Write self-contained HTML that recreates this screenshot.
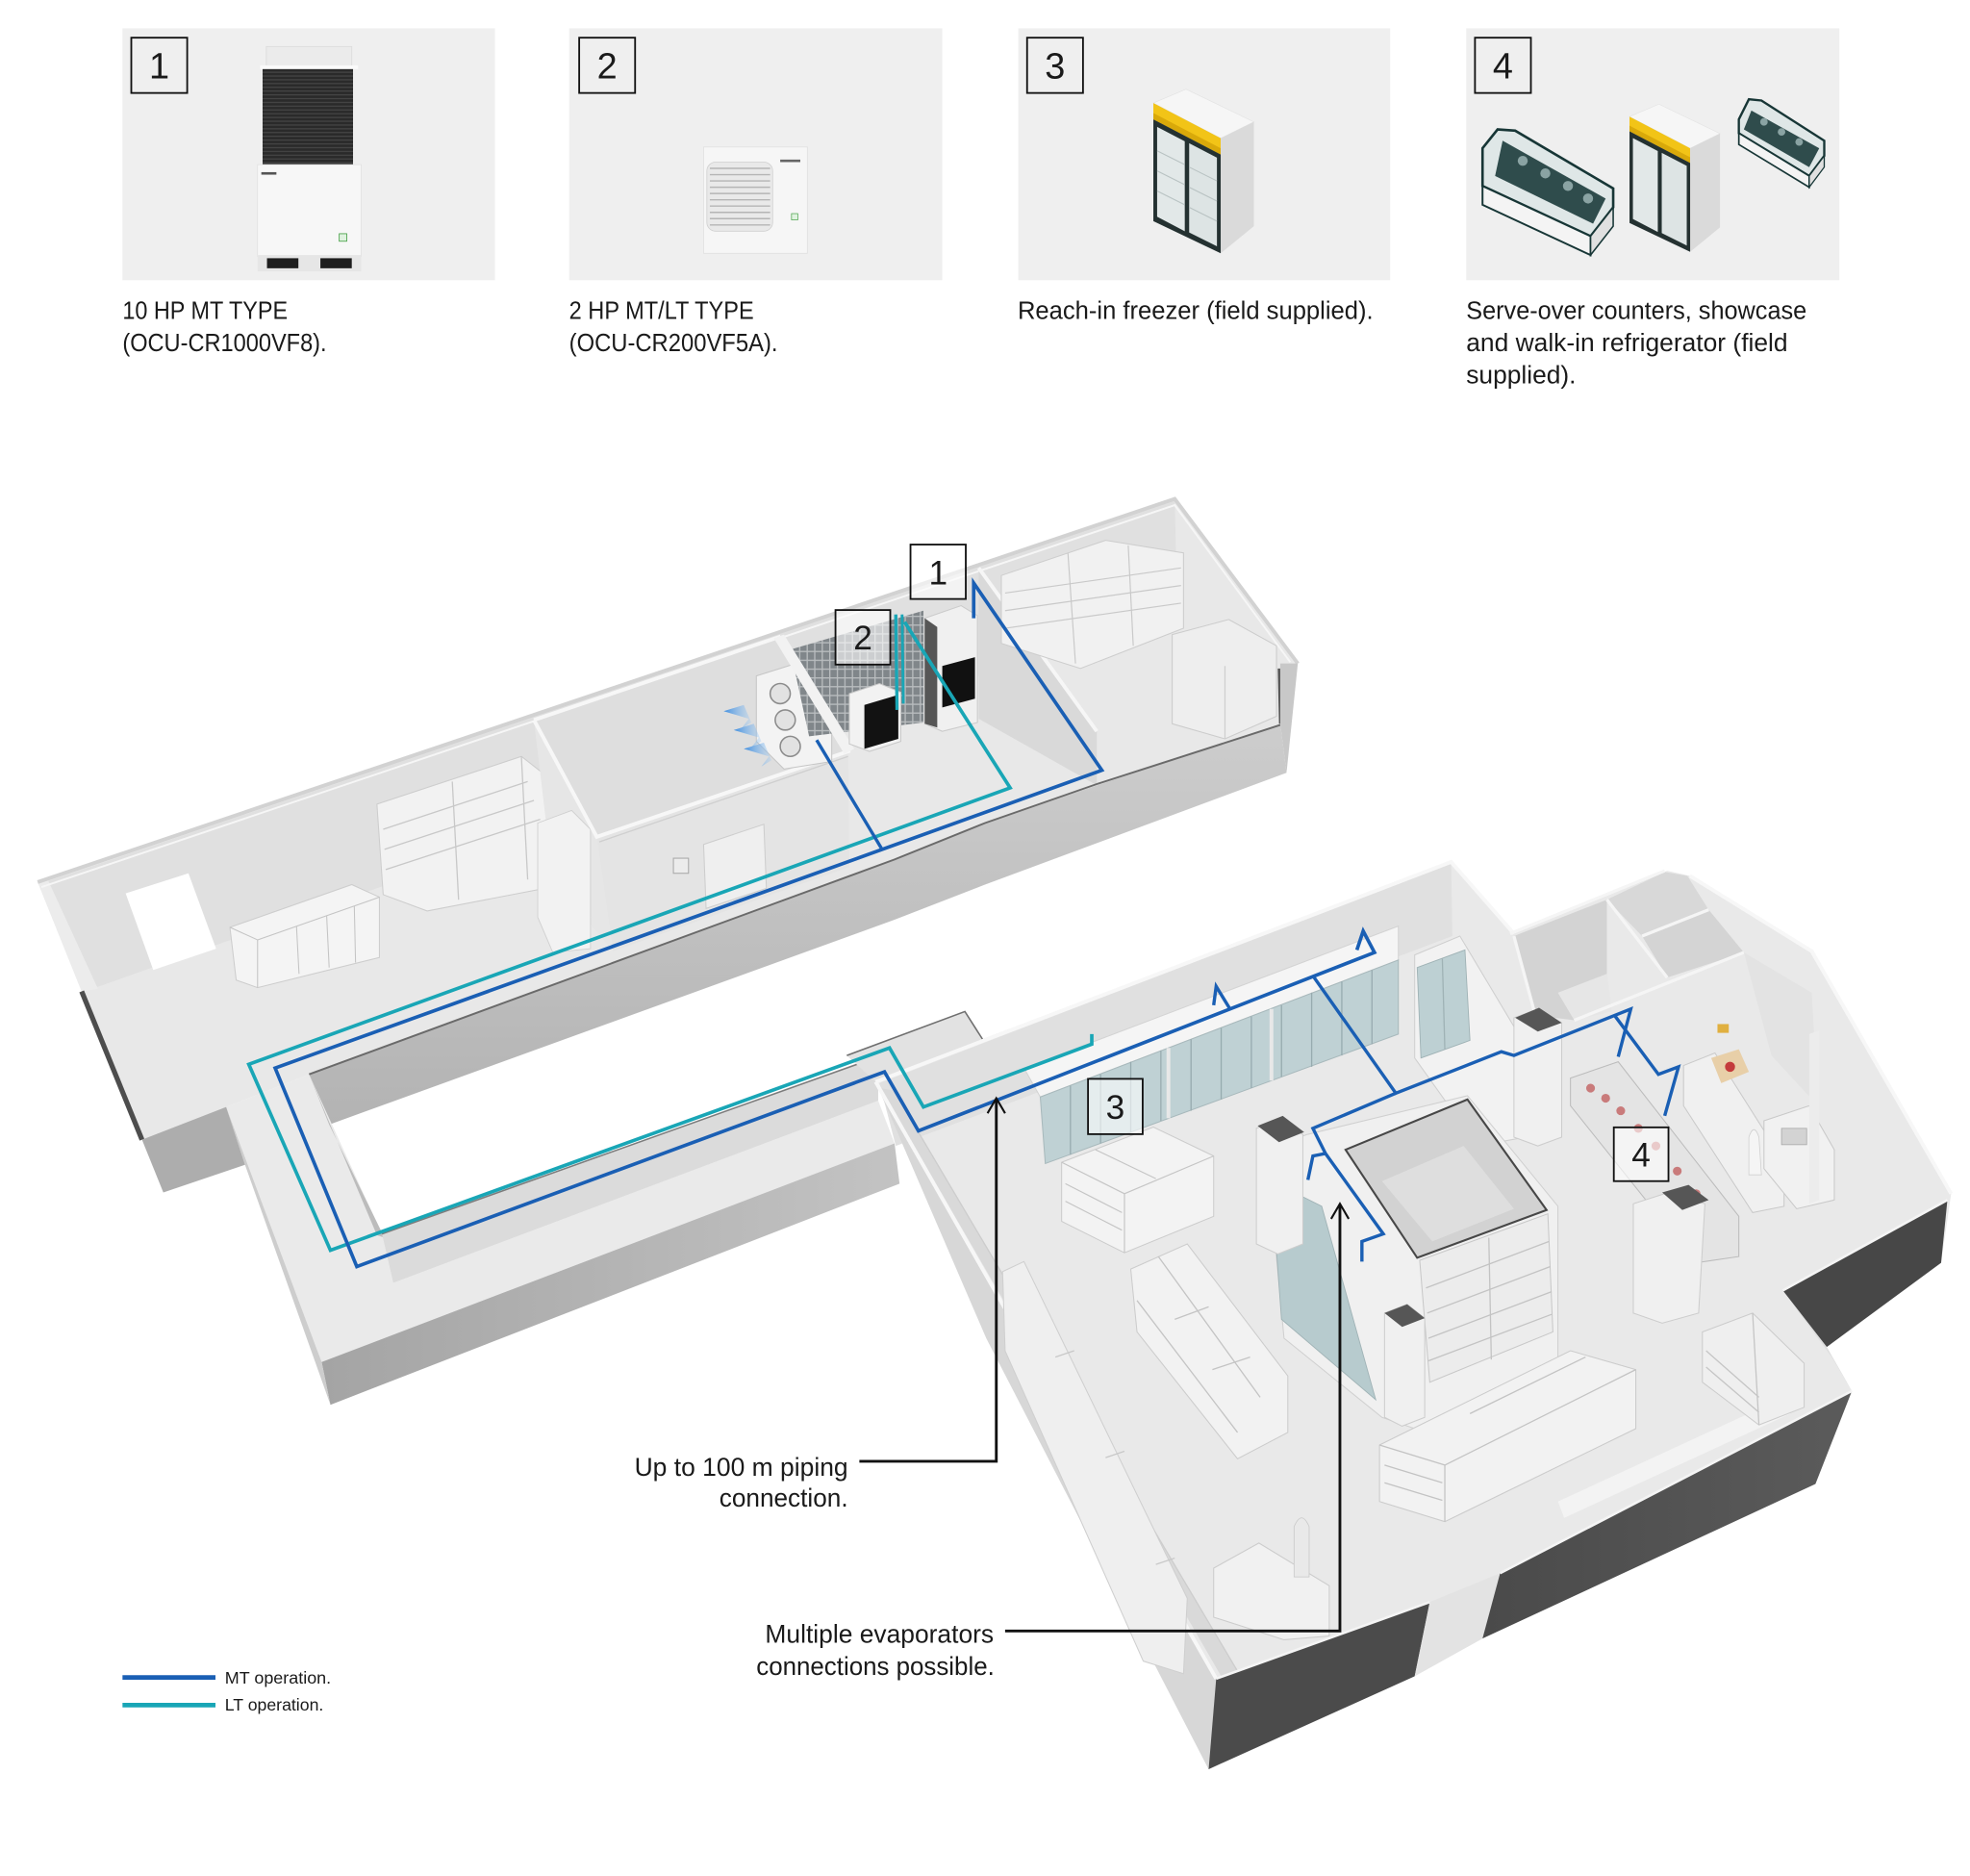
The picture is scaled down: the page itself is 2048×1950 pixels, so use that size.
<!DOCTYPE html>
<html><head><meta charset="utf-8"><style>
html,body{margin:0;padding:0;background:#fff;overflow:hidden;}
svg{display:block;}
text{font-family:"Liberation Sans",sans-serif;fill:#1a1a1a;}
</style></head><body>
<svg xmlns="http://www.w3.org/2000/svg" width="2048" height="1950" viewBox="0 0 1568 1493" preserveAspectRatio="none">
<defs>
<linearGradient id="gBand" x1="0" y1="0" x2="0" y2="1"><stop offset="0" stop-color="#cdcdcd"/><stop offset="1" stop-color="#b3b3b3"/></linearGradient>
<linearGradient id="gCorr" x1="0" y1="0" x2="1" y2="0"><stop offset="0" stop-color="#a4a4a4"/><stop offset="1" stop-color="#c3c3c3"/></linearGradient>
<linearGradient id="gDark" x1="0" y1="0" x2="1" y2="0"><stop offset="0" stop-color="#4a4a4a"/><stop offset="1" stop-color="#5b5b5b"/></linearGradient>
<linearGradient id="gAir" x1="0" y1="0" x2="1" y2="0"><stop offset="0" stop-color="#2f86e0" stop-opacity="0.9"/><stop offset="1" stop-color="#9cc8f2" stop-opacity="0.3"/></linearGradient>
<pattern id="mesh" width="6" height="7" patternUnits="userSpaceOnUse"><rect width="6" height="7" fill="#80868a"/><path d="M0 0.5H6M0.5 0V7" stroke="#b9bdbf" stroke-width="1"/></pattern>
<pattern id="grill" width="4" height="3" patternUnits="userSpaceOnUse"><rect width="4" height="3" fill="#2a2a2a"/><path d="M0 0.5H4" stroke="#4a4a4a" stroke-width="0.8"/></pattern>
</defs>

<!-- ===== TOP PANELS ===== -->
<rect x="97.5" y="22.5" width="296.5" height="200.5" fill="#efefef"/>
<rect x="453" y="22.5" width="297" height="200.5" fill="#efefef"/>
<rect x="810.5" y="22.5" width="296" height="200.5" fill="#efefef"/>
<rect x="1167" y="22.5" width="297" height="200.5" fill="#efefef"/>

<!-- panel 1 unit -->
<rect x="212" y="37" width="68" height="16" fill="#ebebeb" stroke="#dadada" stroke-width="0.6"/>
<rect x="207" y="52" width="78" height="3" fill="#fafafa"/>
<rect x="209" y="55" width="72" height="76" fill="url(#grill)"/>
<rect x="205" y="131" width="82.5" height="73" fill="#f7f7f7" stroke="#e0e0e0" stroke-width="0.6"/>
<rect x="208" y="137" width="12" height="2" fill="#555"/>
<rect x="270" y="186" width="6" height="6" fill="#dff2df" stroke="#3a9a3a" stroke-width="0.6"/>
<rect x="205" y="203" width="82.5" height="13" fill="#e6e6e6"/>
<rect x="212.5" y="205.5" width="25" height="8" fill="#1e1e1e"/>
<rect x="255" y="205.5" width="25" height="8" fill="#1e1e1e"/>

<!-- panel 2 unit -->
<rect x="560" y="117" width="82.6" height="84.6" fill="#f6f6f6" stroke="#e0e0e0" stroke-width="0.6"/>
<rect x="562.6" y="129" width="52.4" height="55" rx="7" fill="#e9e9e9" stroke="#cfcfcf" stroke-width="0.6"/>
<g stroke="#b5b5b5" stroke-width="1.1">
<line x1="565" y1="134" x2="613" y2="134"/><line x1="565" y1="139" x2="613" y2="139"/><line x1="565" y1="144" x2="613" y2="144"/><line x1="565" y1="149" x2="613" y2="149"/><line x1="565" y1="154" x2="613" y2="154"/><line x1="565" y1="159" x2="613" y2="159"/><line x1="565" y1="164" x2="613" y2="164"/><line x1="565" y1="169" x2="613" y2="169"/><line x1="565" y1="174" x2="613" y2="174"/><line x1="565" y1="179" x2="613" y2="179"/>
</g>
<rect x="621" y="127" width="16" height="2" fill="#666"/>
<rect x="630" y="170" width="5" height="5" fill="#dff2df" stroke="#3a9a3a" stroke-width="0.5"/>

<!-- freezer (panel 3) -->
<g transform="translate(918,70)">
<polygon points="0,12 26,1 80,27 53.6,40" fill="#f6f6f6" stroke="#e2e2e2" stroke-width="0.5"/>
<polygon points="0,12 53.6,40 53.6,53 0,25" fill="#f2c417"/>
<polygon points="0,20 53.6,48 53.6,53 0,25" fill="#d9a90a"/>
<polygon points="53.6,40 80,27 80,110 53.6,131.6" fill="#dadada"/>
<polygon points="0,25 53.6,53 53.6,131.6 0,106" fill="#243131"/>
<polygon points="3,31 25,42.5 25,114 3,102.5" fill="#e2e8e8"/>
<polygon points="28.5,44 50.6,55.5 50.6,126 28.5,115" fill="#dde4e4"/>
<g stroke="#b8c2c2" stroke-width="0.8"><line x1="3" y1="50" x2="25" y2="61"/><line x1="3" y1="66" x2="25" y2="77"/><line x1="3" y1="82" x2="25" y2="93"/><line x1="28.5" y1="63" x2="50.6" y2="74"/><line x1="28.5" y1="79" x2="50.6" y2="90"/><line x1="28.5" y1="95" x2="50.6" y2="106"/></g>
</g>
<!-- panel 4 freezer -->
<g transform="translate(1297,82) scale(0.9)">
<polygon points="0,12 26,1 80,27 53.6,40" fill="#f6f6f6" stroke="#e2e2e2" stroke-width="0.5"/>
<polygon points="0,12 53.6,40 53.6,53 0,25" fill="#f2c417"/>
<polygon points="0,20 53.6,48 53.6,53 0,25" fill="#d9a90a"/>
<polygon points="53.6,40 80,27 80,110 53.6,131.6" fill="#dadada"/>
<polygon points="0,25 53.6,53 53.6,131.6 0,106" fill="#243131"/>
<polygon points="3,31 25,42.5 25,114 3,102.5" fill="#e2e8e8"/>
<polygon points="28.5,44 50.6,55.5 50.6,126 28.5,115" fill="#dde4e4"/>
</g>
<!-- serve-over counters -->
<polygon points="1180,118 1192,103 1206,104 1284,150 1284,165 1266,188 1180,148" fill="#dfe7e7" stroke="#173636" stroke-width="2"/>
<polygon points="1196,112 1278,158 1268,178 1190,140" fill="#2f4c4c"/>
<g fill="#8aa3a3"><circle cx="1212" cy="128" r="4"/><circle cx="1230" cy="138" r="4"/><circle cx="1248" cy="148" r="4"/><circle cx="1264" cy="158" r="4"/></g>
<polygon points="1180,148 1266,188 1266,203 1180,163" fill="#f4f4f4" stroke="#173636" stroke-width="1.5"/>
<polygon points="1266,188 1284,165 1284,180 1266,203" fill="#e0e0e0" stroke="#173636" stroke-width="1.2"/>
<polygon points="1384,95 1392,79 1402,80 1452,112 1452,124 1440,140 1384,106" fill="#dfe7e7" stroke="#173636" stroke-width="1.8"/>
<polygon points="1394,88 1448,118 1440,133 1388,103" fill="#2f4c4c"/>
<g fill="#8aa3a3"><circle cx="1404" cy="97" r="3"/><circle cx="1418" cy="105" r="3"/><circle cx="1432" cy="113" r="3"/></g>
<polygon points="1384,106 1440,140 1440,149 1384,115" fill="#f4f4f4" stroke="#173636" stroke-width="1.3"/>
<polygon points="1440,140 1452,124 1452,133 1440,149" fill="#e0e0e0" stroke="#173636" stroke-width="1"/>

<!-- number boxes top -->
<g fill="none" stroke="#111" stroke-width="1.4">
<rect x="104.5" y="30" width="44.5" height="44"/>
<rect x="461" y="30" width="44.5" height="44"/>
<rect x="817.5" y="30" width="44.5" height="44"/>
<rect x="1174" y="30" width="44.5" height="44"/>
</g>
<g font-size="29" text-anchor="middle">
<text x="126.7" y="62.5">1</text>
<text x="483.2" y="62.5">2</text>
<text x="839.7" y="62.5">3</text>
<text x="1196.2" y="62.5">4</text>
</g>

<!-- captions -->
<g font-size="19.5">
<text x="97.5" y="254" textLength="131.5" lengthAdjust="spacingAndGlyphs">10 HP MT TYPE</text>
<text x="97.5" y="279.5" textLength="162.5" lengthAdjust="spacingAndGlyphs">(OCU-CR1000VF8).</text>
<text x="453" y="254" textLength="147" lengthAdjust="spacingAndGlyphs">2 HP MT/LT TYPE</text>
<text x="453" y="279.5" textLength="166" lengthAdjust="spacingAndGlyphs">(OCU-CR200VF5A).</text>
<text x="810" y="254" textLength="283" lengthAdjust="spacingAndGlyphs">Reach-in freezer (field supplied).</text>
<text x="1167" y="254" textLength="271" lengthAdjust="spacingAndGlyphs">Serve-over counters, showcase</text>
<text x="1167" y="279.5" textLength="256" lengthAdjust="spacingAndGlyphs">and walk-in refrigerator (field</text>
<text x="1167" y="305" textLength="87.5" lengthAdjust="spacingAndGlyphs">supplied).</text>
</g>

<!-- ===== UPPER BUILDING ===== -->
<polygon points="30,702 935,397 1033,528 1019,576 784,655 712,684 246,855 180,881 113,907 65,789" fill="#e8e8e8"/>
<polygon points="33,703 935,398 937,482 76,786" fill="#e0e0e0"/>
<polygon points="30,702 38,700 78,787 65,789" fill="#ececec"/>
<polyline points="30,702 935,397 1033,528" fill="none" stroke="#d2d2d2" stroke-width="3"/>
<polyline points="33,706 935,402 1027,527" fill="none" stroke="#f6f6f6" stroke-width="1.5"/>

<!-- window -->
<polygon points="100,711 150,695 172,755 122,772" fill="#ffffff"/>
<!-- cabinets -->
<polygon points="183,738 280,704 302,714 302,762 205,786 188,780" fill="#f4f4f4" stroke="#cdcdcd" stroke-width="0.8"/>
<g stroke="#c4c4c4" stroke-width="0.8"><line x1="205" y1="748" x2="205" y2="786"/><line x1="183" y1="738" x2="205" y2="748"/><line x1="205" y1="748" x2="302" y2="714"/><line x1="236" y1="737" x2="238" y2="775"/><line x1="260" y1="729" x2="262" y2="770"/><line x1="282" y1="721" x2="283" y2="766"/></g>
<!-- shelving -->
<polygon points="300,640 415,602 470,645 470,700 340,725 305,712" fill="#f2f2f2" stroke="#cdcdcd" stroke-width="0.8"/>
<g stroke="#c8c8c8" stroke-width="1"><line x1="305" y1="660" x2="420" y2="622"/><line x1="306" y1="676" x2="425" y2="637"/><line x1="307" y1="692" x2="430" y2="652"/><line x1="360" y1="622" x2="365" y2="716"/><line x1="415" y1="602" x2="420" y2="700"/></g>

<!-- Room A -->
<polygon points="425,573 620,507 675,598 475,666" fill="#dedede"/>
<polygon points="425,573 475,666 488,757 440,700" fill="#e6e6e6"/>
<polygon points="428,655 455,645 470,660 470,755 440,758 428,730" fill="#f2f2f2" stroke="#d0d0d0" stroke-width="0.7"/>
<polygon points="475,666 675,598 676,690 488,757" fill="#e4e4e4"/>
<polyline points="425,573 475,666 675,598 620,507 425,573" fill="none" stroke="#f7f7f7" stroke-width="3"/>
<polyline points="477,670 675,602" fill="none" stroke="#cfcfcf" stroke-width="1"/>
<polygon points="560,672 608,656 610,707 562,723" fill="#efefef" stroke="#cdcdcd" stroke-width="0.8"/>
<rect x="536" y="683" width="12" height="12" fill="#ececec" stroke="#a8a8a8" stroke-width="0.8"/>
<!-- condensing unit -->
<polygon points="602,538 640,526 662,548 662,606 624,612 602,590" fill="#f3f3f3" stroke="#c6c6c6" stroke-width="0.8"/>
<g fill="#e2e2e2" stroke="#8c8c8c" stroke-width="1.2"><circle cx="621" cy="552" r="8"/><circle cx="625" cy="573" r="8"/><circle cx="629" cy="594" r="8"/></g>
<g fill="url(#gAir)">
<polygon points="576,566 592,561 598,575 590,580 596,572"/>
<polygon points="584,581 600,576 606,590 598,595 604,587"/>
<polygon points="592,596 608,591 614,605 606,610 612,602"/>
</g>

<!-- Room B -->
<polygon points="629,517 735,486 735,575 644,586" fill="url(#mesh)"/>
<polygon points="616,508 624,505 680,596 672,600" fill="#f2f2f2"/>
<polygon points="676,552 700,544 717,551 717,590 692,598 676,592" fill="#f2f2f2" stroke="#c9c9c9" stroke-width="0.8"/>
<polygon points="688,561 715,553 715,588 688,596" fill="#121212"/>
<polygon points="736,492 765,482 778,490 778,575 750,582 736,576" fill="#f0f0f0" stroke="#cbcbcb" stroke-width="0.8"/>
<polygon points="736,492 746,499 746,579 736,576" fill="#565656"/>
<polygon points="750,530 776,523 776,556 750,563" fill="#111"/>
<polygon points="779,452 873,582 873,625 779,572" fill="#d9d9d9"/>
<line x1="779" y1="452" x2="873" y2="582" stroke="#f6f6f6" stroke-width="3"/>
<!-- storage -->
<polygon points="797,458 880,430 942,440 942,500 860,532 797,512" fill="#f1f1f1" stroke="#cdcdcd" stroke-width="0.8"/>
<g stroke="#c9c9c9" stroke-width="0.9"><line x1="800" y1="472" x2="940" y2="452"/><line x1="800" y1="486" x2="940" y2="466"/><line x1="800" y1="500" x2="940" y2="480"/><line x1="850" y1="440" x2="856" y2="528"/><line x1="898" y1="434" x2="902" y2="514"/></g>
<polygon points="933,505 978,493 1016,514 1016,570 975,588 933,576" fill="#eeeeee" stroke="#cccccc" stroke-width="0.8"/>
<line x1="975" y1="530" x2="975" y2="588" stroke="#cfcfcf"/>
<line x1="1018" y1="532" x2="1019" y2="576" stroke="#555" stroke-width="2"/>

<!-- bands / corridors -->
<polygon points="246,855 712,684 784,655 1019,576 1024,615 784,704 712,732 262,895" fill="url(#gBand)"/>
<polyline points="246,855 712,684 784,655 873,624 1019,577" fill="none" stroke="#6a6a6a" stroke-width="1.5"/>
<polygon points="1019,528 1033,528 1024,615 1019,576" fill="#c8c8c8"/>
<polygon points="180,881 246,855 304,982 313,1021 699,876 712,910 256,1084" fill="#eaeaea"/>
<polygon points="246,855 262,895 306,985 300,983" fill="#bcbcbc"/>
<polygon points="304,982 699,841 699,876 313,1021" fill="#dbdbdb"/>
<line x1="304" y1="982" x2="699" y2="841" stroke="#7c7c7c" stroke-width="1.2"/>
<polygon points="256,1084 712,910 716,942 263,1118" fill="url(#gCorr)"/>
<polygon points="180,881 256,1084 263,1118 195,927" fill="#cdcdcd"/>
<polygon points="113,907 180,881 195,927 130,949" fill="#adadad"/>
<line x1="65" y1="789" x2="113" y2="907" stroke="#4d4d4d" stroke-width="4"/>

<!-- ===== LOWER STORE ===== -->
<polygon points="674,840 768,805 782,827 697,861" fill="#e2e2e2"/>
<polyline points="674,840 768,805 782,827" fill="none" stroke="#6f6f6f" stroke-width="1.2"/>
<polygon points="697,861 779,828 1155,686 1205,743 1327,693 1345,697 1442,757 1553,950 1545,1005 1454,1072 1474,1107 1445,1181 1180,1304 1126,1334 962,1408 785,1065" fill="#e9e9e9"/>
<polygon points="700,862 1155,687 1156,745 713,912" fill="#e0e0e0"/>
<polygon points="697,861 968,1336 962,1408 785,1065" fill="#d7d7d7"/>
<polygon points="701,866 712,868 985,1330 972,1334" fill="#d9d9d9"/>
<polyline points="697,861 1155,686 1205,743" fill="none" stroke="#f7f7f7" stroke-width="3"/>
<line x1="697" y1="861" x2="968" y2="1336" stroke="#f7f7f7" stroke-width="3"/>
<line x1="712" y1="869" x2="985" y2="1330" stroke="#cdcdcd" stroke-width="1"/>
<polyline points="1345,697 1442,757 1553,950" fill="none" stroke="#f7f7f7" stroke-width="3"/>

<!-- back rooms -->
<polygon points="1205,745 1279,716 1279,794 1253,812 1222,808" fill="#d3d3d3"/>
<polygon points="1279,716 1325,694 1343,697 1360,724 1307,745" fill="#d8d8d8"/>
<polygon points="1307,745 1360,724 1388,758 1327,778" fill="#d4d4d4"/>
<polygon points="1240,790 1279,775 1283,805 1253,812" fill="#e6e6e6"/>
<g stroke="#f5f5f5" stroke-width="2.5" fill="none">
<polyline points="1202,743 1325,693"/><polyline points="1279,716 1327,778"/><polyline points="1253,812 1388,758"/><polyline points="1307,745 1360,724"/><polyline points="1205,745 1222,808"/>
</g>
<!-- kitchen -->
<polygon points="1388,758 1442,790 1447,880 1410,840" fill="#e3e3e3"/>
<polygon points="1340,848 1365,838 1420,925 1420,960 1395,965 1340,880" fill="#f0f0f0" stroke="#cacaca" stroke-width="0.8"/>
<polygon points="1404,892 1440,880 1460,915 1460,955 1430,962 1404,930" fill="#f1f1f1" stroke="#c9c9c9" stroke-width="0.8"/>
<rect x="1418" y="898" width="20" height="13" fill="#d3d3d3" stroke="#a8a8a8" stroke-width="0.6"/>
<polygon points="1362,842 1384,835 1392,853 1370,862" fill="#e8cfa8"/>
<circle cx="1377" cy="849" r="4" fill="#c43b3b"/>
<rect x="1367" y="815" width="9" height="7" fill="#e0b040"/>
<path d="M1392,905 q4,-12 8,0 l2,30 l-10,0 z" fill="#f5f5f5" stroke="#cfcfcf" stroke-width="0.6"/>
<polygon points="1440,823 1448,820 1448,955 1440,958" fill="#ececec"/>

<!-- dark walls -->
<polygon points="962,1408 968,1336 1138,1275 1126,1334" fill="#4b4b4b"/>
<polygon points="1126,1334 1138,1275 1194,1252 1180,1304" fill="#e3e3e3"/>
<polygon points="1194,1252 1474,1107 1445,1181 1180,1304" fill="url(#gDark)"/>
<polygon points="1419,1027 1550,955 1545,1005 1454,1072" fill="#474747"/>
<polygon points="1419,1027 1454,1072 1474,1107 1458,1080" fill="#dedede"/>
<polyline points="968,1336 1138,1275" fill="none" stroke="#f4f4f4" stroke-width="2"/>
<polyline points="1194,1252 1474,1107" fill="none" stroke="#f4f4f4" stroke-width="2"/>
<polyline points="1419,1027 1550,955" fill="none" stroke="#f4f4f4" stroke-width="2"/>
<polygon points="1240,1195 1420,1112 1425,1125 1245,1208" fill="#f3f3f3"/>

<!-- freezer row -->
<polygon points="815,850 1113,737 1113,764 828,873" fill="#f5f5f5" stroke="#d3d3d3" stroke-width="0.8"/>
<polygon points="828,873 1113,764 1113,823 832,926" fill="#bfd1d4" stroke="#a8b9bc" stroke-width="0.8"/>
<g stroke="#97abaf" stroke-width="1">
<line x1="852" y1="864" x2="852" y2="919"/><line x1="876" y1="855" x2="876" y2="910"/><line x1="900" y1="845" x2="900" y2="901"/><line x1="924" y1="836" x2="924" y2="892"/><line x1="948" y1="827" x2="948" y2="884"/><line x1="972" y1="818" x2="972" y2="875"/><line x1="996" y1="809" x2="996" y2="866"/><line x1="1020" y1="800" x2="1020" y2="857"/><line x1="1044" y1="790" x2="1044" y2="849"/><line x1="1068" y1="781" x2="1068" y2="840"/><line x1="1092" y1="772" x2="1092" y2="831"/>
</g>
<line x1="930" y1="834" x2="930" y2="890" stroke="#e8e8e8" stroke-width="3"/>
<line x1="1012" y1="803" x2="1012" y2="860" stroke="#e8e8e8" stroke-width="3"/>
<!-- tall unit -->
<polygon points="1126,760 1162,745 1214,832 1214,905 1176,912 1126,842" fill="#f2f2f2" stroke="#cfcfcf" stroke-width="0.8"/>
<polygon points="1128,770 1166,756 1170,828 1131,842" fill="#bdd0d3" stroke="#9fb2b5" stroke-width="0.7"/>
<line x1="1148" y1="763" x2="1150" y2="835" stroke="#9fb2b5"/>
<!-- gondola 1 -->
<polygon points="845,925 918,897 966,920 966,968 895,997 845,972" fill="#f3f3f3" stroke="#cccccc" stroke-width="0.8"/>
<g stroke="#c5c5c5" stroke-width="0.9"><line x1="845" y1="925" x2="895" y2="950"/><line x1="895" y1="950" x2="966" y2="920"/><line x1="895" y1="950" x2="895" y2="997"/><line x1="848" y1="942" x2="893" y2="965"/><line x1="848" y1="956" x2="893" y2="979"/><line x1="872" y1="915" x2="920" y2="938"/></g>
<!-- island freezers -->
<polygon points="900,1010 945,990 1025,1095 1025,1140 985,1161 905,1060" fill="#f2f2f2" stroke="#cccccc" stroke-width="0.8"/>
<g stroke="#c4c4c4" stroke-width="1"><line x1="922" y1="1000" x2="1003" y2="1112"/><line x1="905" y1="1035" x2="985" y2="1140"/><line x1="935" y1="1050" x2="962" y2="1040"/><line x1="965" y1="1090" x2="995" y2="1080"/></g>
<!-- left wall units -->
<polygon points="798,1012 815,1004 945,1272 942,1332 910,1322 800,1075" fill="#efefef" stroke="#cfcfcf" stroke-width="0.8"/>
<g stroke="#c8c8c8" stroke-width="1"><line x1="840" y1="1080" x2="855" y2="1075"/><line x1="880" y1="1160" x2="895" y2="1155"/><line x1="920" y1="1245" x2="935" y2="1240"/></g>
<!-- checkout -->
<polygon points="966,1248 1002,1228 1058,1262 1058,1302 1022,1305 966,1287" fill="#f1f1f1" stroke="#cccccc" stroke-width="0.8"/>
<path d="M1030,1255 l0,-40 q6,-14 12,0 l0,40 z" fill="#e9e9e9" stroke="#c8c8c8" stroke-width="0.6"/>
<!-- cube -->
<polygon points="1008,915 1040,903 1168,872 1240,960 1240,1092 1135,1140 1100,1128 1022,1065" fill="#f0f0f0" stroke="#d0d0d0" stroke-width="0.8"/>
<polygon points="1012,940 1052,960 1095,1114 1020,1050" fill="#b7cbce" stroke="#a0b3b6" stroke-width="0.7"/>
<polygon points="1071,915 1168,875 1231,963 1128,1001" fill="#d2d2d2" stroke="#474747" stroke-width="1.6"/>
<polygon points="1100,940 1165,912 1205,962 1140,988" fill="#dedede"/>
<polygon points="1130,1003 1232,966 1236,1060 1138,1100" fill="#ececec" stroke="#c8c8c8" stroke-width="0.8"/>
<g stroke="#c3c3c3" stroke-width="1"><line x1="1135" y1="1025" x2="1233" y2="988"/><line x1="1136" y1="1045" x2="1234" y2="1008"/><line x1="1137" y1="1065" x2="1235" y2="1028"/><line x1="1137" y1="1083" x2="1235" y2="1046"/><line x1="1185" y1="985" x2="1187" y2="1082"/></g>
<!-- serve-over counter -->
<polygon points="1250,858 1288,845 1384,968 1384,1000 1350,1005 1250,880" fill="#e4e4e4" stroke="#bcbcbc" stroke-width="0.8"/>
<g fill="#c97b7b"><circle cx="1266" cy="866" r="3.5"/><circle cx="1278" cy="874" r="3.5"/><circle cx="1290" cy="884" r="3.5"/><circle cx="1304" cy="898" r="3.5"/><circle cx="1318" cy="912" r="3.5"/><circle cx="1335" cy="932" r="3.5"/><circle cx="1350" cy="950" r="3.5"/></g>
<!-- columns -->
<g fill="#f0f0f0" stroke="#cdcdcd" stroke-width="0.8">
<polygon points="1000,898 1020,890 1037,903 1037,990 1017,998 1000,990"/>
<polygon points="1102,1045 1120,1038 1134,1049 1134,1128 1116,1135 1102,1128"/>
<polygon points="1205,810 1224,803 1243,814 1243,905 1224,912 1205,905"/>
<polygon points="1300,958 1325,950 1357,958 1352,1045 1323,1053 1300,1045"/>
</g>
<g fill="#565656">
<polygon points="1001,896 1021,888 1038,901 1018,909"/>
<polygon points="1102,1045 1120,1038 1134,1049 1116,1056"/>
<polygon points="1206,810 1225,802 1243,814 1224,821"/>
<polygon points="1323,949 1344,943 1360,955 1339,963"/>
</g>
<!-- long gondola -->
<polygon points="1098,1150 1250,1075 1302,1090 1302,1137 1150,1211 1098,1195" fill="#f2f2f2" stroke="#cbcbcb" stroke-width="0.8"/>
<g stroke="#c3c3c3" stroke-width="1"><line x1="1098" y1="1150" x2="1150" y2="1166"/><line x1="1150" y1="1166" x2="1302" y2="1090"/><line x1="1150" y1="1166" x2="1150" y2="1211"/><line x1="1102" y1="1166" x2="1148" y2="1180"/><line x1="1102" y1="1180" x2="1148" y2="1194"/><line x1="1170" y1="1125" x2="1262" y2="1080"/></g>
<!-- right shelf -->
<polygon points="1355,1060 1395,1045 1436,1085 1436,1120 1400,1134 1355,1100" fill="#efefef" stroke="#cccccc" stroke-width="0.8"/>
<g stroke="#c5c5c5"><line x1="1358" y1="1075" x2="1400" y2="1112"/><line x1="1358" y1="1088" x2="1400" y2="1124"/><line x1="1395" y1="1045" x2="1400" y2="1134"/></g>

<!-- ===== PIPES ===== -->
<g fill="none" stroke-linejoin="miter" stroke-linecap="butt">
<polyline points="713,489 714,565" stroke="#19a6b6" stroke-width="2.6"/>
<polyline points="718,489 719,560" stroke="#19a6b6" stroke-width="2.2"/>
<polyline points="720,495 804,627 198,847 263,995 708,834 735,881 869,831 869,823" stroke="#19a6b6" stroke-width="2.8"/>
<polyline points="775,492 775,464 877,613 219,850 284,1008 704,853 731,900 1094,758 1085,741 1080,756" stroke="#1a5fb4" stroke-width="2.8"/>
<polyline points="650,589 701.5,675" stroke="#1a5fb4" stroke-width="2.6"/>
<polyline points="979,803 968,785 966,800" stroke="#1a5fb4" stroke-width="2.6"/>
<polyline points="1046,778 1111,870 1195,837 1205,840 1298,803 1288,841" stroke="#1a5fb4" stroke-width="2.6"/>
<polyline points="1285,808 1320,855 1336,849 1325,888" stroke="#1a5fb4" stroke-width="2.6"/>
<polyline points="1111,870 1045,898 1055,918 1101,982 1084,988 1084,1004" stroke="#1a5fb4" stroke-width="2.6"/>
<polyline points="1055,918 1045,920 1041,939" stroke="#1a5fb4" stroke-width="2.6"/>
</g>

<!-- ===== DIAGRAM LABEL BOXES ===== -->
<g fill="#ffffff" fill-opacity="0.6" stroke="#111" stroke-width="1.4">
<rect x="724.7" y="433.4" width="44" height="43.3"/>
<rect x="665" y="485.5" width="43.6" height="43.4"/>
<rect x="866" y="858.6" width="43.5" height="44"/>
<rect x="1284.5" y="897.2" width="43.5" height="42.8"/>
</g>
<g font-size="27" text-anchor="middle">
<text x="746.7" y="465">1</text>
<text x="686.8" y="517">2</text>
<text x="887.7" y="890.5">3</text>
<text x="1306.2" y="928.5">4</text>
</g>

<!-- ===== CALLOUTS ===== -->
<g fill="none" stroke="#111" stroke-width="2.2">
<polyline points="684,1163 793,1163 793,875"/>
<polyline points="800,1298 1066.5,1298 1066.5,959"/>
</g>
<g fill="none" stroke="#111" stroke-width="1.6">
<polyline points="786,886 793,874 800,886"/>
<polyline points="1059.5,970 1066.5,958 1073.5,970"/>
</g>
<g font-size="20.5">
<text x="505" y="1174.5" textLength="170" lengthAdjust="spacingAndGlyphs">Up to 100 m piping</text>
<text x="572.5" y="1199" textLength="102.5" lengthAdjust="spacingAndGlyphs">connection.</text>
<text x="609" y="1307.5" textLength="182" lengthAdjust="spacingAndGlyphs">Multiple evaporators</text>
<text x="602" y="1333" textLength="189.5" lengthAdjust="spacingAndGlyphs">connections possible.</text>
</g>

<!-- ===== LEGEND ===== -->
<line x1="97.5" y1="1335" x2="171.5" y2="1335" stroke="#1a5fb4" stroke-width="3.6"/>
<line x1="97.5" y1="1357" x2="171.5" y2="1357" stroke="#19a6b6" stroke-width="3.6"/>
<g font-size="13.5">
<text x="179" y="1340" textLength="84.5" lengthAdjust="spacingAndGlyphs">MT operation.</text>
<text x="179" y="1361.5" textLength="78.5" lengthAdjust="spacingAndGlyphs">LT operation.</text>
</g>
</svg>
</body></html>
